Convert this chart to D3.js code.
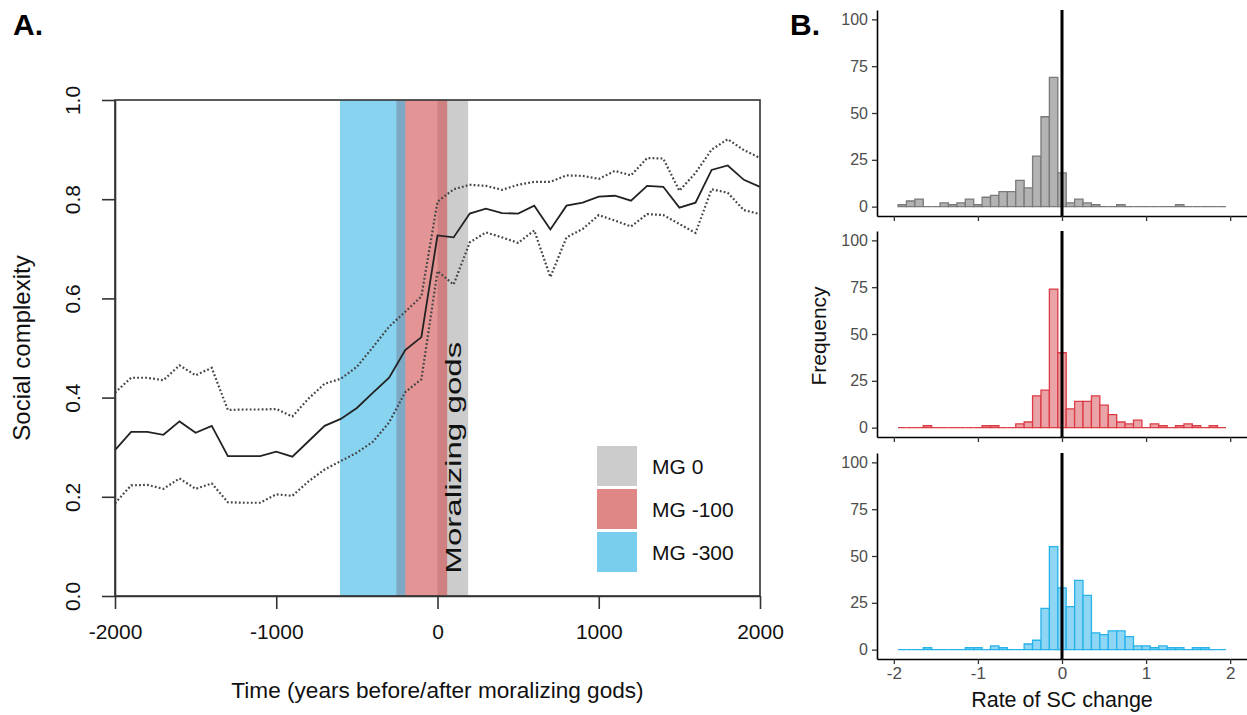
<!DOCTYPE html>
<html><head><meta charset="utf-8">
<script src="https://cdn.jsdelivr.net/npm/d3@7"></script>
<style>body{margin:0;background:#fff} text{font-family:"Liberation Sans",Arial,Helvetica,sans-serif}</style>
</head><body>
<svg id="chart" width="1247" height="715"></svg>
<script>
// ---------- Panel A data ----------
const years = [-2000,-1900,-1800,-1700,-1600,-1500,-1400,-1300,-1200,-1100,-1000,-900,-800,-700,-600,-500,-400,-300,-200,-100,0,100,200,300,400,500,600,700,800,900,1000,1100,1200,1300,1400,1500,1600,1700,1800,1900,2000];
const meanSC = [0.294,0.331,0.331,0.325,0.352,0.329,0.343,0.282,0.282,0.282,0.291,0.281,0.312,0.343,0.357,0.379,0.410,0.440,0.496,0.522,0.727,0.723,0.771,0.781,0.772,0.771,0.787,0.739,0.787,0.793,0.805,0.807,0.797,0.827,0.825,0.783,0.793,0.859,0.868,0.839,0.825];
const upperSC = [0.410,0.440,0.440,0.435,0.465,0.445,0.460,0.375,0.376,0.376,0.377,0.362,0.398,0.428,0.438,0.462,0.502,0.543,0.573,0.604,0.795,0.820,0.829,0.827,0.819,0.829,0.835,0.835,0.848,0.847,0.841,0.857,0.848,0.883,0.882,0.817,0.853,0.900,0.921,0.899,0.883];
const lowerSC = [0.187,0.223,0.224,0.216,0.237,0.216,0.227,0.189,0.188,0.188,0.205,0.202,0.231,0.255,0.272,0.289,0.311,0.350,0.411,0.437,0.655,0.628,0.713,0.733,0.723,0.712,0.737,0.643,0.723,0.740,0.768,0.757,0.745,0.770,0.768,0.750,0.732,0.820,0.813,0.778,0.770];
const bandNames = ["MG 0","MG -100","MG -300"];
const bandStart = [0,-255,-605];
const bandEnd = [190,60,-200];
const bandColors = ["#cccccc","rgb(208,77,77)","rgb(57,183,230)"];
const bandOpacity = [1,0.6,0.6];
const xTicksA = [-2000,-1000,0,1000,2000];
const yTicksA = [0,0.2,0.4,0.6,0.8,1.0];

// ---------- Panel B data ----------
const binCenters = [-1.9,-1.8,-1.7,-1.6,-1.5,-1.4,-1.3,-1.2,-1.1,-1.0,-0.9,-0.8,-0.7,-0.6,-0.5,-0.4,-0.3,-0.2,-0.1,0,0.1,0.2,0.3,0.4,0.5,0.6,0.7,0.8,0.9,1.0,1.1,1.2,1.3,1.4,1.5,1.6,1.7,1.8,1.9];
const countsMG0   = [1,3,4,0,0,2,1,2,4,1,5,6,8,8,14,10,27,48,69,18,2,4,2,1,0,0,1,0,0,0,0,0,0,1,0,0,0,0,0];
const countsMG100 = [0,0,0,1,0,0,0,0,0,0,1,1,0,0,2,3,17,20,74,40,10,14,14,17,12,7,3,2,4,0,2,1,0,1,2,1,0,1,0];
const countsMG300 = [0,0,0,1,0,0,0,0,1,1,0,2,1,0,0,3,5,22,55,33,23,37,29,9,8,10,10,7,2,2,1,2,1,1,0,1,1,0,0];
const histFill = ["#b3b3b3","#eaa3a7","#8ed6f3"];
const histStroke = ["#7a7a7a","#dc3c45","#27b3ea"];
const yTicksB = [0,25,50,75,100];
const xTicksB = [-2,-1,0,1,2];

const svg = d3.select("#chart");
const axisCol = "#333";

// ---------- Panel A ----------
const xA = d3.scaleLinear().domain([-2000,2000]).range([115,760]);
const yA = d3.scaleLinear().domain([0,1]).range([596,100]);

const bands = svg.append("g");
bandNames.forEach((n,i)=>{
  bands.append("rect")
    .attr("x", xA(bandStart[i])).attr("width", xA(bandEnd[i])-xA(bandStart[i]))
    .attr("y", yA(1)).attr("height", yA(0)-yA(1))
    .attr("fill", bandColors[i]).attr("fill-opacity", bandOpacity[i]);
});

svg.append("text")
  .attr("transform", `translate(${xA(95)+8},${yA(0.045)}) rotate(-90)`)
  .attr("font-size", 22).attr("fill","#111")
  .attr("textLength", 232).attr("lengthAdjust","spacingAndGlyphs")
  .text("Moralizing gods");

const lineGen = d3.line().x((d,i)=>xA(years[i])).y(d=>yA(d));
svg.append("path").datum(upperSC).attr("d", lineGen).attr("fill","none")
  .attr("stroke","#444").attr("stroke-width",2.2).attr("stroke-dasharray","1.8,2.2");
svg.append("path").datum(lowerSC).attr("d", lineGen).attr("fill","none")
  .attr("stroke","#444").attr("stroke-width",2.2).attr("stroke-dasharray","1.8,2.2");
svg.append("path").datum(meanSC).attr("d", lineGen).attr("fill","none")
  .attr("stroke","#222").attr("stroke-width",1.8);

// box
svg.append("rect").attr("x",115).attr("y",100).attr("width",xA(2000)-xA(-2000)).attr("height",yA(0)-yA(1))
  .attr("fill","none").attr("stroke",axisCol).attr("stroke-width",1.6);

const gxA = svg.append("g").attr("transform",`translate(0,${yA(0)})`)
  .call(d3.axisBottom(xA).tickValues(xTicksA).tickSize(13).tickSizeOuter(0).tickPadding(15).tickFormat(d=>String(d)));
gxA.select(".domain").attr("stroke",axisCol).attr("stroke-width",1.6);
gxA.selectAll(".tick line").attr("stroke",axisCol).attr("stroke-width",1.6);
gxA.selectAll("text").attr("font-size",21).attr("fill","#111");

const gyA = svg.append("g").attr("transform",`translate(${xA(-2000)},0)`)
  .call(d3.axisLeft(yA).tickValues(yTicksA).tickSize(13).tickSizeOuter(0).tickFormat(d3.format(".1f")));
gyA.select(".domain").attr("stroke",axisCol).attr("stroke-width",1.6);
gyA.selectAll(".tick line").attr("stroke",axisCol).attr("stroke-width",1.6);
gyA.selectAll("text").attr("x",null).attr("dy",null).attr("font-size",21).attr("fill","#111")
  .attr("text-anchor","middle").attr("transform","translate(-35,0) rotate(-90)");

svg.append("text").attr("x",(xA(-2000)+xA(2000))/2).attr("y",698).attr("text-anchor","middle")
  .attr("font-size",22.6).attr("fill","#111").text("Time (years before/after moralizing gods)");
svg.append("text").attr("transform",`translate(30,${(yA(0)+yA(1))/2}) rotate(-90)`).attr("text-anchor","middle")
  .attr("font-size",24).attr("fill","#111").text("Social complexity");

// legend
const leg = svg.append("g");
bandNames.forEach((n,i)=>{
  const ly = 446 + i*43;
  leg.append("rect").attr("x",597).attr("y",ly).attr("width",40).attr("height",40)
    .attr("fill", bandColors[i]).attr("fill-opacity", bandOpacity[i]==1?1:0.68);
  leg.append("text").attr("x",652).attr("y",ly+20).attr("dy","0.36em").attr("font-size",21)
    .attr("fill","#111").text(n);
});

svg.append("text").attr("x",13).attr("y",35).attr("font-size",30).attr("font-weight","bold").text("A.");
svg.append("text").attr("x",790).attr("y",35).attr("font-size",30).attr("font-weight","bold").text("B.");

// ---------- Panel B ----------
const xB = d3.scaleLinear().domain([-2.2,2.2]).range([877,1247]);
const panelTops = [10,231,453];
const panelH = 206;
const allCounts = [countsMG0, countsMG100, countsMG300];

allCounts.forEach((counts,p)=>{
  const top = panelTops[p];
  const yB = d3.scaleLinear().domain([-5,105]).range([top+panelH, top]);
  const g = svg.append("g");
  g.selectAll("path.bar").data(counts).join("path").attr("class","bar")
    .attr("d",(d,i)=>{
      const x0 = xB(binCenters[i]-0.05), x1 = xB(binCenters[i]+0.05);
      return `M${x0},${yB(0)}V${yB(d)}H${x1}V${yB(0)}Z`;
    })
    .attr("fill", histFill[p]).attr("stroke", histStroke[p]).attr("stroke-width",1.3);
  g.append("line").attr("x1",xB(0)).attr("x2",xB(0)).attr("y1",top).attr("y2",top+panelH)
    .attr("stroke","#000").attr("stroke-width",3);
  const gy = g.append("g").attr("transform",`translate(${xB.range()[0]},0)`)
    .call(d3.axisLeft(yB).tickValues(yTicksB).tickSize(5).tickSizeOuter(0).tickPadding(4));
  gy.select(".domain").attr("stroke","#000").attr("stroke-width",1.6);
  gy.selectAll(".tick line").attr("stroke","#333").attr("stroke-width",1.3);
  gy.selectAll("text").attr("font-size",16).attr("fill","#4d4d4d");
  const gx = g.append("g").attr("transform",`translate(0,${top+panelH})`)
    .call(d3.axisBottom(xB).tickValues(xTicksB).tickSize(5).tickSizeOuter(0).tickPadding(3)
      .tickFormat(p===2 ? (d=>String(d)) : ()=>""));
  gx.select(".domain").attr("stroke","#000").attr("stroke-width",1.6);
  gx.selectAll(".tick line").attr("stroke","#333").attr("stroke-width",1.3);
  gx.selectAll("text").attr("font-size",17).attr("fill","#4d4d4d");
});

svg.append("text").attr("x",(877+1247)/2).attr("y",707).attr("text-anchor","middle")
  .attr("font-size",21.5).attr("fill","#111").text("Rate of SC change");
svg.append("text").attr("transform",`translate(826,336) rotate(-90)`).attr("text-anchor","middle")
  .attr("font-size",21).attr("fill","#111").text("Frequency");
</script>
</body></html>
